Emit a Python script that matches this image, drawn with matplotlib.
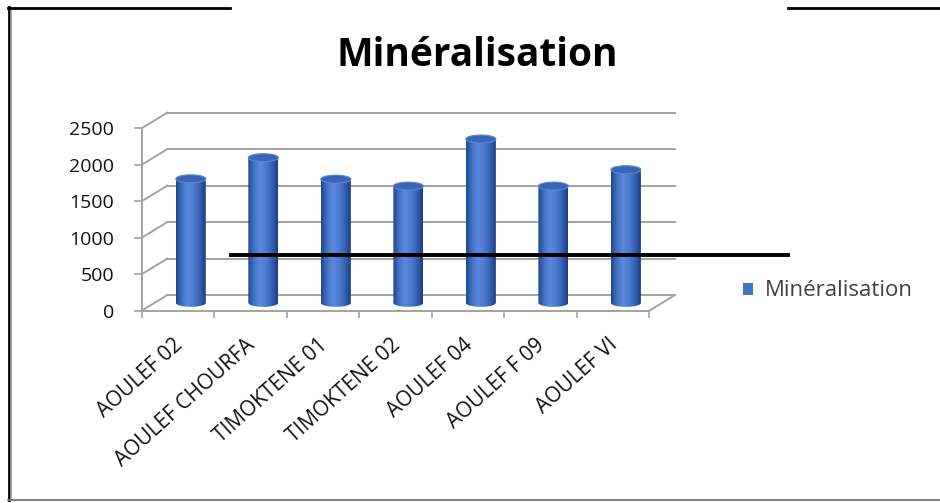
import numpy as np
import matplotlib.pyplot as plt
from matplotlib.patches import Ellipse, PathPatch, Patch
from matplotlib.path import Path
from matplotlib.lines import Line2D
from matplotlib.colors import LinearSegmentedColormap

plt.rcParams['font.family'] = ['Open Sans', 'DejaVu Sans']

sites = ['AOULEF 02', 'AOULEF CHOURFA', 'TIMOKTENE 01', 'TIMOKTENE 02',
         'AOULEF 04', 'AOULEF F 09', 'AOULEF VI']
mineral = [1700, 1990, 1695, 1600, 2245, 1600, 1825]
yticks = [0, 500, 1000, 1500, 2000, 2500]
title = 'Minéralisation'

W, H = 940, 503
fig = plt.figure(figsize=(W / 100, H / 100), dpi=100)
fig.patch.set_facecolor('white')

# front face of the plot box in pixels
x0, x1, ytop, ybot = 141.7, 649.3, 128.3, 310.7
ax = fig.add_axes([x0 / W, 1 - ybot / H, (x1 - x0) / W, (ybot - ytop) / H])
ax.set_xlim(0, len(sites))
ax.set_ylim(0, 2500)
ax.set_facecolor('none')

# depth offset of the back wall, in data units
px_x = (x1 - x0) / len(sites)
px_y = (ybot - ytop) / 2500
DX = 25.7 / px_x
DY = 15.7 / px_y

grid_c = '#a3a3a3'
n = len(sites)
for t in yticks:
    ax.plot([DX, n + DX], [t + DY, t + DY], color=grid_c, lw=1.4, clip_on=False, zorder=1)
    ax.plot([0, DX], [t, t + DY], color=grid_c, lw=1.4, clip_on=False, zorder=1)
# floor
ax.plot([0, n], [0, 0], color=grid_c, lw=1.4, clip_on=False, zorder=1)
ax.plot([n, n + DX], [0, DY], color=grid_c, lw=1.4, clip_on=False, zorder=1)

for s in ['top', 'right', 'bottom']:
    ax.spines[s].set_visible(False)
ax.spines['left'].set_color(grid_c)
ax.spines['left'].set_linewidth(1.4)

ax.set_yticks(yticks)
ax.set_yticklabels([str(t) for t in yticks], fontsize=14, color='#111111')
ax.tick_params(axis='y', length=6, width=1.2, color=grid_c, pad=14)

ax.set_xticks(np.arange(n + 1))
ax.set_xticklabels([])
ax.set_xticks(np.arange(n) + 0.62, minor=True)
ax.set_xticklabels(sites, minor=True, rotation=42, ha='right', va='top',
                   fontsize=15, color='#111111')
ax.tick_params(axis='x', which='major', length=5, width=1.2, color=grid_c)
ax.tick_params(axis='x', which='minor', length=0, pad=17)

# cylinders
body_cmap = LinearSegmentedColormap.from_list(
    'cyl', ['#23468c', '#4272c6', '#5a8ada', '#4c7bd0', '#3662b6', '#1f3e80'])
grad = np.linspace(0, 1, 64).reshape(1, -1)
bw = 30 / px_x
eh = 8 / px_y
base = DY / 2
for i, v in enumerate(mineral):
    cx = i + 0.5 + DX / 2
    left, right = cx - bw / 2, cx + bw / 2
    top = v + base
    th = np.linspace(np.pi, 2 * np.pi, 40)
    verts = [(cx + bw / 2 * np.cos(a), base + eh / 2 * np.sin(a)) for a in th]
    verts += [(right, top), (left, top), verts[0]]
    codes = [Path.MOVETO] + [Path.LINETO] * (len(verts) - 2) + [Path.CLOSEPOLY]
    outline = PathPatch(Path(verts, codes), facecolor='none', edgecolor='none',
                        transform=ax.transData)
    ax.add_patch(outline)
    im = ax.imshow(grad, cmap=body_cmap, aspect='auto', zorder=3,
                   extent=[left, right, base - eh / 2, top], interpolation='bilinear')
    im.set_clip_path(outline)
    ax.add_patch(Ellipse((cx, top), bw, eh, facecolor='#3a64b6', edgecolor='#5a86d2',
                         lw=0.8, zorder=4, clip_on=False))
ax.set_xlim(0, n)
ax.set_ylim(0, 2500)

fig.text(477 / W, 1 - 56 / H, title, ha='center', va='center',
         fontsize=28, fontweight='bold', color='black')

ax.legend(handles=[Patch(facecolor='#4472c4', label='Minéralisation')],
          loc='center left', bbox_to_anchor=(723 / W, 1 - 291 / H),
          bbox_transform=fig.transFigure, frameon=False, fontsize=16,
          handlelength=0.45, handleheight=0.45, handletextpad=0.55,
          labelcolor='#404040')

# frame pieces around the chart area
def fline(xs, ys, **kw):
    fig.add_artist(Line2D([x / W for x in xs], [1 - y / H for y in ys],
                          transform=fig.transFigure, **kw))

fline([8.5, 8.5], [7, 500], color='black', lw=2)
fline([10.8, 10.8], [9, 499], color='#9a9a9a', lw=1.2)
fline([8, 230], [7.5, 7.5], color='black', lw=2)
fline([788, 940], [7.5, 7.5], color='black', lw=2)
fline([8, 940], [500, 500], color='#7a7a7a', lw=1.3)
fline([231, 788], [254.7, 254.7], color='black', lw=2.8)

fig.savefig('out.png', dpi=100, facecolor='white')
